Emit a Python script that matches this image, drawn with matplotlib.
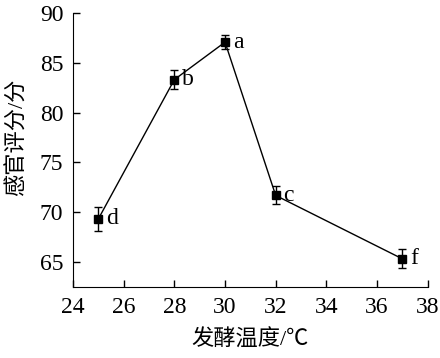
import matplotlib
matplotlib.use('Agg')
import matplotlib.pyplot as plt

# fermentation temperature vs sensory score
temps = [25, 28, 30, 32, 37]
scores = [69.35, 83.3, 87.05, 71.7, 65.35]
errors = [1.2, 0.95, 0.7, 0.9, 0.95]
letters = ['d', 'b', 'a', 'c', 'f']

xticks = [24, 26, 28, 30, 32, 34, 36, 38]
yticks = [65, 70, 75, 80, 85, 90]

serif = ['Liberation Serif', 'Noto Sans CJK SC']
plt.rcParams['font.family'] = serif

fig = plt.figure(figsize=(4.4, 3.58), dpi=100)
ax = fig.add_axes([0.166, 0.1975, 0.806, 0.767])

ax.errorbar(temps, scores, yerr=errors, color='black', lw=1.0,
            marker='s', markersize=5.5, capsize=3, elinewidth=1.0, capthick=1.0)

for x, y, t in zip(temps, scores, letters):
    ax.text(x + 0.3, y, t, fontsize=17, va='center', ha='left')

ax.set_xlim(24, 38)
ax.set_ylim(62.5, 90)
ax.set_xticks(xticks)
ax.set_yticks(yticks)
ax.tick_params(direction='in', labelsize=17, length=5, width=1, pad=7)
ax.spines['top'].set_visible(False)
ax.spines['right'].set_visible(False)

ax.set_xlabel('发酵温度/℃', fontsize=16, labelpad=8)
ax.set_ylabel('感官评分/分', fontsize=16)
ax.yaxis.set_label_coords(-0.128, 0.545)

fig.savefig('out.png', dpi=100)
